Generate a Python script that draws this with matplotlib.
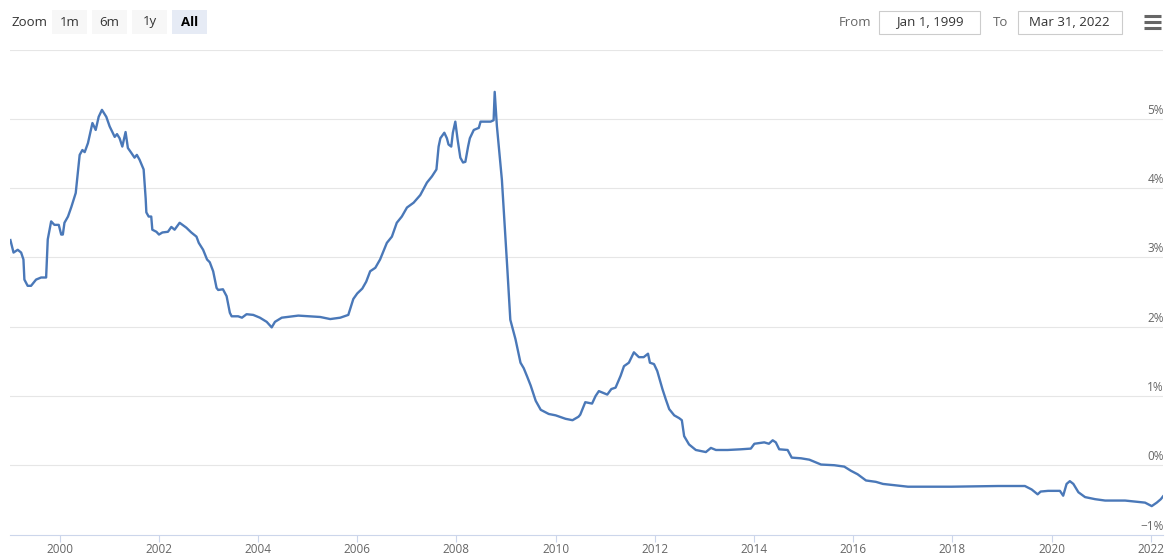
import matplotlib
matplotlib.use("Agg")
import matplotlib.pyplot as plt
from matplotlib.patches import Rectangle
import pandas as pd

W, H = 1166, 556

# 3-month rate, percent
dates = [
    "1999-01-04", "1999-01-27", "1999-02-27", "1999-03-24", "1999-04-10", "1999-04-17",
    "1999-05-11", "1999-06-05", "1999-07-12", "1999-08-18", "1999-09-24", "1999-10-06",
    "1999-10-31", "1999-11-24", "1999-12-26", "2000-01-13", "2000-01-25", "2000-02-06",
    "2000-03-03", "2000-03-28", "2000-04-29", "2000-05-28", "2000-06-17", "2000-07-04",
    "2000-07-28", "2000-08-30", "2000-09-23", "2000-10-15", "2000-11-08", "2000-12-10",
    "2001-01-04", "2001-02-10", "2001-02-27", "2001-03-18", "2001-04-07", "2001-05-01",
    "2001-05-18", "2001-06-12", "2001-07-06", "2001-07-23", "2001-08-12", "2001-09-11",
    "2001-09-26", "2001-10-01", "2001-10-18", "2001-11-06", "2001-11-14", "2001-12-14",
    "2002-01-02", "2002-01-27", "2002-03-09", "2002-04-03", "2002-04-27", "2002-06-03",
    "2002-07-22", "2002-08-28", "2002-10-05", "2002-10-22", "2002-11-23", "2002-12-22",
    "2003-01-11", "2003-02-05", "2003-03-02", "2003-03-14", "2003-04-18", "2003-05-15",
    "2003-06-08", "2003-06-21", "2003-08-08", "2003-09-05", "2003-10-09", "2003-11-27",
    "2004-01-15", "2004-03-05", "2004-04-11", "2004-05-05", "2004-06-24", "2004-09-17",
    "2004-10-24", "2005-01-19", "2005-04-03", "2005-06-16", "2005-08-29", "2005-10-27",
    "2005-12-03", "2006-01-01", "2006-02-07", "2006-03-08", "2006-04-06", "2006-05-14",
    "2006-06-18", "2006-08-07", "2006-09-13", "2006-10-19", "2006-11-25", "2007-01-02",
    "2007-02-20", "2007-04-10", "2007-05-29", "2007-07-05", "2007-08-07", "2007-08-23",
    "2007-09-05", "2007-10-04", "2007-10-23", "2007-11-04", "2007-11-24", "2007-12-06",
    "2007-12-24", "2008-01-10", "2008-01-30", "2008-02-19", "2008-03-07", "2008-03-27",
    "2008-04-09", "2008-05-08", "2008-06-14", "2008-06-27", "2008-09-09", "2008-10-01",
    "2008-10-09", "2008-10-25", "2008-12-01", "2009-01-09", "2009-02-01", "2009-03-11",
    "2009-04-17", "2009-05-11", "2009-06-05", "2009-07-01", "2009-08-07", "2009-09-13",
    "2009-11-11", "2010-01-01", "2010-03-15", "2010-05-05", "2010-06-18", "2010-07-01",
    "2010-08-07", "2010-09-26", "2010-10-22", "2010-11-15", "2011-01-16", "2011-02-15",
    "2011-03-18", "2011-04-24", "2011-05-19", "2011-06-24", "2011-07-31", "2011-09-06",
    "2011-10-11", "2011-11-12", "2011-11-26", "2011-12-26", "2012-01-19", "2012-02-26",
    "2012-03-22", "2012-04-16", "2012-05-23", "2012-06-28", "2012-07-18", "2012-08-04",
    "2012-09-09", "2012-10-29", "2013-01-11", "2013-02-17", "2013-03-26", "2013-06-20",
    "2013-09-26", "2013-12-08", "2014-01-03", "2014-03-17", "2014-04-20", "2014-05-18",
    "2014-06-10", "2014-07-05", "2014-09-05", "2014-10-05", "2014-12-13", "2015-02-12",
    "2015-05-09", "2015-08-15", "2015-10-27", "2015-12-15", "2016-02-02", "2016-04-04",
    "2016-06-16", "2016-08-07", "2017-02-07", "2017-12-24", "2018-12-02", "2019-06-18",
    "2019-08-07", "2019-09-20", "2019-10-12", "2019-12-06", "2020-03-02", "2020-03-26",
    "2020-04-20", "2020-05-14", "2020-06-09", "2020-07-16", "2020-09-03", "2020-11-16",
    "2021-01-29", "2021-06-25", "2021-11-19", "2022-01-07", "2022-02-13", "2022-03-15",
    "2022-03-31",
]
rates = [
    3.25, 3.07, 3.11, 3.07, 2.97, 2.68,
    2.59, 2.59, 2.68, 2.71, 2.71, 3.26,
    3.52, 3.47, 3.47, 3.33, 3.33, 3.50,
    3.59, 3.73, 3.93, 4.48, 4.55, 4.52,
    4.65, 4.94, 4.84, 5.03, 5.13, 5.03,
    4.89, 4.74, 4.78, 4.72, 4.60, 4.81,
    4.58, 4.51, 4.44, 4.48, 4.41, 4.27,
    3.85, 3.65, 3.59, 3.59, 3.40, 3.37,
    3.33, 3.36, 3.37, 3.44, 3.40, 3.50,
    3.43, 3.36, 3.30, 3.21, 3.11, 2.97,
    2.93, 2.80, 2.56, 2.53, 2.54, 2.44,
    2.20, 2.15, 2.15, 2.13, 2.18, 2.17,
    2.13, 2.07, 1.99, 2.07, 2.13, 2.15,
    2.16, 2.15, 2.14, 2.11, 2.13, 2.17,
    2.40, 2.48, 2.55, 2.65, 2.80, 2.85,
    2.97, 3.21, 3.30, 3.50, 3.59, 3.72,
    3.79, 3.90, 4.08, 4.17, 4.27, 4.60,
    4.72, 4.80, 4.72, 4.63, 4.60, 4.80,
    4.96, 4.70, 4.44, 4.37, 4.38, 4.60,
    4.72, 4.84, 4.87, 4.96, 4.96, 4.98,
    5.39, 4.90, 4.12, 2.87, 2.10, 1.82,
    1.48, 1.40, 1.28, 1.15, 0.93, 0.80,
    0.74, 0.72, 0.67, 0.65, 0.70, 0.73,
    0.91, 0.89, 1.00, 1.07, 1.02, 1.10,
    1.12, 1.29, 1.43, 1.48, 1.63, 1.56,
    1.56, 1.61, 1.48, 1.46, 1.36, 1.10,
    0.95, 0.81, 0.72, 0.68, 0.65, 0.42,
    0.30, 0.22, 0.19, 0.25, 0.22, 0.22,
    0.23, 0.24, 0.31, 0.33, 0.31, 0.36,
    0.33, 0.23, 0.22, 0.11, 0.10, 0.08,
    0.01, 0.00, -0.02, -0.08, -0.13, -0.22,
    -0.24, -0.27, -0.31, -0.31, -0.30, -0.30,
    -0.35, -0.42, -0.38, -0.37, -0.37, -0.44,
    -0.27, -0.23, -0.27, -0.39, -0.46, -0.49,
    -0.51, -0.51, -0.54, -0.59, -0.54, -0.49,
    -0.45,
]

tick_years = list(range(2000, 2023, 2))
y_levels = [-1, 0, 1, 2, 3, 4, 5]
zoom_buttons = ["1m", "6m", "1y", "All"]
date_from, date_to = "Jan 1, 1999", "Mar 31, 2022"

plt.rcParams["font.family"] = ["Open Sans", "DejaVu Sans"]

fig = plt.figure(figsize=(W / 100, H / 100), dpi=100)
fig.patch.set_facecolor("white")

# plot area in pixel terms: x 10..1163, y 49.6 (6%) .. 534.5 (-1%)
ax = fig.add_axes([10 / W, (H - 534.5) / H, 1153 / W, (534.5 - 49.6) / H])
ax.set_facecolor("white")

x = pd.to_datetime(dates)
ax.plot(x, rates, color="#4a78b8", lw=1.7, solid_joinstyle="round", zorder=3)

ax.set_xlim(pd.Timestamp("1999-01-01"), pd.Timestamp("2022-03-31"))
ax.set_ylim(-1, 6)

for v in range(0, 7):
    ax.axhline(v, color="#e6e6e6", lw=0.8, zorder=1)

for s in ["top", "left", "right"]:
    ax.spines[s].set_visible(False)
ax.spines["bottom"].set_color("#ccd6eb")
ax.spines["bottom"].set_linewidth(0.8)

ax.set_yticks([])
ax.set_xticks([pd.Timestamp(f"{y}-01-01") for y in tick_years])
ax.set_xticklabels([str(y) for y in tick_years])
ax.tick_params(axis="x", direction="out", length=5, width=0.8, color="#ccd6eb",
               labelcolor="#666666", labelsize=8.5, pad=0.8)

# y labels sit just above their gridlines at the right edge
for v in y_levels:
    lab = f"{v}%".replace("-", "\u2212")
    ax.annotate(lab, xy=(1, v), xycoords=("axes fraction", "data"),
                xytext=(1, 2), textcoords="offset pixels",
                ha="right", va="bottom", fontsize=8.5, color="#666666")

# range selector / toolbar drawn on a pixel overlay
ov = fig.add_axes([0, 0, 1, 1], zorder=5)
ov.set_xlim(0, W)
ov.set_ylim(H, 0)
ov.axis("off")
ov.patch.set_alpha(0)

ov.text(12, 22, "Zoom", fontsize=9.5, color="#333333", ha="left", va="center")
bx = 52
for lab in zoom_buttons:
    sel = lab == "All"
    ov.add_patch(Rectangle((bx, 10), 35, 24, facecolor="#e6ebf5" if sel else "#f7f7f7",
                           edgecolor="none"))
    ov.text(bx + 17.5, 22, lab, fontsize=9.5, ha="center", va="center",
            color="#000000" if sel else "#333333", fontweight="bold" if sel else "normal")
    bx += 40

ov.text(855, 22, "From", fontsize=9.5, color="#666666", ha="center", va="center")
ov.add_patch(Rectangle((879, 10.5), 101, 23, facecolor="white", edgecolor="#cccccc", lw=0.8))
ov.text(929.5, 22, date_from, fontsize=9.5, color="#333333", ha="center", va="center")
ov.text(1001, 22, "To", fontsize=9.5, color="#666666", ha="center", va="center")
ov.add_patch(Rectangle((1017.5, 10.5), 104, 23, facecolor="white", edgecolor="#cccccc", lw=0.8))
ov.text(1069.5, 22, date_to, fontsize=9.5, color="#333333", ha="center", va="center")

# context menu icon
for yy in (16, 22, 28):
    ov.plot([1144, 1161], [yy, yy], color="#666666", lw=2.2, solid_capstyle="butt")

fig.savefig("out.png", dpi=100, facecolor="white")
